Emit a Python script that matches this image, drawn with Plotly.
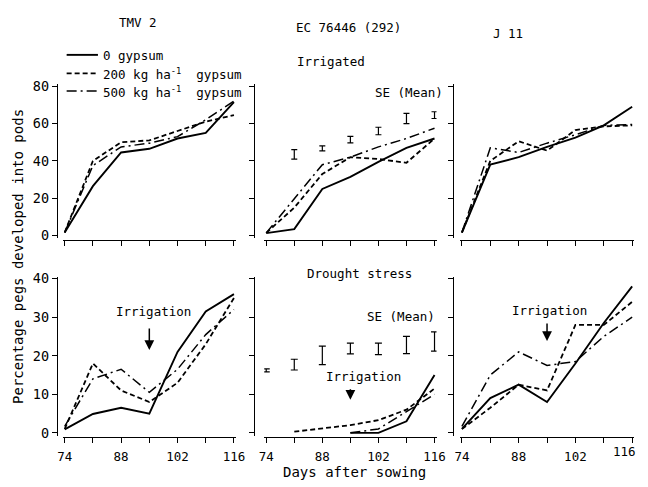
import plotly.graph_objects as go

W, H = 648, 487
def fx(p): return p / W
def fy(p): return 1 - p / H

FONT = "DejaVu Sans Mono"

days = [74, 81, 88, 95, 102, 109, 116]
x_ticktext = ["74", "", "88", "", "102", "", "116"]

# ---- Irrigated (top row) ----
tmv2_irr_0 = [1.7, 26.5, 44.5, 46.5, 52, 55, 71.5]
tmv2_irr_200 = [1.7, 40, 50, 51, 56, 61, 64.5]
tmv2_irr_500 = [1.7, 37.5, 47.5, 49.5, 53, 62, 72]

ec_irr_0 = [1.4, 3.5, 25, 31.5, 39.5, 47, 52]
ec_irr_200 = [1.5, 15, 33, 42, 41, 39, 52]
ec_irr_500 = [1.5, 20, 38, 42, 47.5, 52, 57.5]

j11_irr_0 = [1.7, 38, 42, 47.5, 52.5, 59, 69]
j11_irr_200 = [1.7, 40, 50.5, 45.5, 56.5, 58.5, 59]
j11_irr_500 = [1.7, 47, 44.5, 49.5, 54, 59, 59.5]

se_irr_days = [81, 88, 95, 102, 109, 116]
se_irr_mean = [43.5, 46.7, 51.4, 56, 62.7, 64.5]
se_irr_err = [2.5, 1.3, 1.7, 2, 2.7, 1.8]

# ---- Drought stress (bottom row) ----
tmv2_dr_0 = [0.9, 4.9, 6.5, 5, 21, 31.5, 36]
tmv2_dr_200 = [1, 18, 11, 8, 13, 23, 35]
tmv2_dr_500 = [1.7, 14, 16.5, 10.5, 16.5, 25.5, 32]

ec_dr_0 = [None, None, None, 0, 0, 3, 15]
ec_dr_200 = [None, 0.3, 1.2, 2, 3.3, 6, 11.5]
ec_dr_500 = [None, None, None, 0, 1, 5.5, 10]

j11_dr_0 = [1, 9, 12.5, 8, 18, 28.5, 38]
j11_dr_200 = [1, 6.5, 12.5, 11, 28, 28, 34]
j11_dr_500 = [1.7, 15, 21, 17.5, 18.5, 25, 30]

se_dr_days = [74, 81, 88, 95, 102, 109, 116]
se_dr_mean = [16.2, 17.7, 20.1, 21.9, 21.8, 22.8, 23.7]
se_dr_err = [0.4, 1.4, 2.4, 1.4, 1.5, 2.25, 2.5]

series_names = ["0 gypsum", "200 kg ha<sup>-1</sup>  gypsum", "500 kg ha<sup>-1</sup>  gypsum"]
styles = [dict(width=1.9, dash="solid"),
          dict(width=1.8, dash="5px,3px"),
          dict(width=1.5, dash="10px,4px,2px,4px")]

panels = [
    [tmv2_irr_0, tmv2_irr_200, tmv2_irr_500],
    [ec_irr_0, ec_irr_200, ec_irr_500],
    [j11_irr_0, j11_irr_200, j11_irr_500],
    [tmv2_dr_0, tmv2_dr_200, tmv2_dr_500],
    [ec_dr_0, ec_dr_200, ec_dr_500],
    [j11_dr_0, j11_dr_200, j11_dr_500],
]

# pixel geometry
col_x = [(61, 234), (267, 439), (467, 641)]   # pixel of day 74 and 116
col_yaxis = [53, 255, 458]
rows = [
    dict(zero=235, top=82, vmax=80, rng=[-1.5, 81], ticks=[0, 20, 40, 60, 80], xpos=239),
    dict(zero=436.7, top=279, vmax=40, rng=[-0.8, 40.5], ticks=[0, 10, 20, 30, 40], xpos=441),
]

fig = go.Figure()
layout = dict(width=W, height=H, margin=dict(l=0, r=0, t=0, b=0),
              paper_bgcolor="white", plot_bgcolor="white", showlegend=False,
              font=dict(family=FONT, size=12.5, color="black"))

for i in range(6):
    r, c = divmod(i, 3)
    k = i + 1
    xl, xr = col_x[c]
    sx = (xr - xl) / 42.0
    rw = rows[r]
    sy = (rw["zero"] - rw["top"]) / rw["vmax"]
    ybot = rw["zero"] - rw["rng"][0] * sy
    ytop = rw["zero"] - rw["rng"][1] * sy
    xn = "x" if k == 1 else f"x{k}"
    yn = "y" if k == 1 else f"y{k}"
    if r == 1:
        tt = list(x_ticktext)
        if c == 2:
            tt[-1] = ""   # drawn as annotation to stay inside the page
    else:
        tt = [""] * 7
    layout["xaxis" if k == 1 else f"xaxis{k}"] = dict(
        domain=[fx(xl - 0.5 * sx), fx(xr + 0.5 * sx)], range=[73.5, 116.5],
        anchor="free", position=fy(rw["xpos"]),
        showline=True, linecolor="black", linewidth=1.2,
        ticks="outside", ticklen=5, tickwidth=1.2, tickcolor="black",
        tickvals=days, ticktext=tt, ticklabelstandoff=3,
        showgrid=False, zeroline=False, tickfont=dict(family=FONT, size=12.5))
    layout["yaxis" if k == 1 else f"yaxis{k}"] = dict(
        domain=[fy(ybot), fy(ytop)], range=rw["rng"],
        anchor="free", position=fx(col_yaxis[c]),
        showline=True, linecolor="black", linewidth=1.2,
        ticks="outside", ticklen=5, tickwidth=1.2, tickcolor="black",
        tickvals=rw["ticks"], showticklabels=(c == 0),
        showgrid=False, zeroline=False, tickfont=dict(family=FONT, size=13.5))
    for s, vals in enumerate(panels[i]):
        fig.add_trace(go.Scatter(x=days, y=vals, mode="lines", name=series_names[s],
                                 line=dict(color="black", **styles[s]),
                                 xaxis=xn, yaxis=yn, connectgaps=False))

# SE error bars
fig.add_trace(go.Scatter(x=se_irr_days, y=se_irr_mean, mode="markers",
                         marker=dict(size=2, color="rgba(0,0,0,0)"),
                         error_y=dict(type="data", array=se_irr_err, visible=True,
                                      color="black", thickness=1.2, width=3),
                         xaxis="x2", yaxis="y2"))
fig.add_trace(go.Scatter(x=se_dr_days, y=se_dr_mean, mode="markers",
                         marker=dict(size=2, color="rgba(0,0,0,0)"),
                         error_y=dict(type="data", array=se_dr_err, visible=True,
                                      color="black", thickness=1.2, width=3.5),
                         xaxis="x5", yaxis="y5"))

anns = []
def txt(text, px, py, size=12.5, **kw):
    d = dict(text=text, x=fx(px), y=fy(py), xref="paper", yref="paper",
             showarrow=False, xanchor="center", yanchor="middle",
             font=dict(family=FONT, size=size, color="black"))
    d.update(kw)
    anns.append(d)

txt("TMV 2", 136, 17)
txt("EC 76446 (292)", 351, 22)
txt("J 11", 514, 28)
txt("Irrigated", 333, 57)
txt("SE (Mean)", 413, 89)
txt("Drought stress", 362, 274)
txt("SE (Mean)", 405, 318)
txt("Irrigation", 152, 313)
txt("Irrigation", 366, 379)
txt("Irrigation", 557, 312)
txt("116", 647, 456, xanchor="right")
txt("Days after sowing", 357, 477, size=14)
txt("Percentage pegs developed into pods", 13, 256, size=14, textangle=-90)

# legend
leg_y = [50, 69, 87]
shapes = []
for s in range(3):
    shapes.append(dict(type="line", xref="paper", yref="paper",
                       x0=fx(63), x1=fx(95), y0=fy(leg_y[s]), y1=fy(leg_y[s]),
                       line=dict(color="black", **styles[s])))
    txt(series_names[s], 98, leg_y[s] + 1, xanchor="left")

# irrigation arrows (at day 95)
def arrow(xref, yref, tip, ay):
    anns.append(dict(text="", x=95, y=tip, xref=xref, yref=yref, ax=0, ay=ay,
                     showarrow=True, arrowhead=2, arrowsize=1.3, arrowwidth=1.5,
                     arrowcolor="black"))
arrow("x4", "y4", 21.5, -23)
arrow("x5", "y5", 8.6, -12)
arrow("x6", "y6", 23.8, -19)

layout["annotations"] = anns
layout["shapes"] = shapes
fig.update_layout(**layout)
fig.write_html("out.html", config={"displayModeBar": False},
               post_script="document.body.style.margin='0';document.body.style.padding='0';")
